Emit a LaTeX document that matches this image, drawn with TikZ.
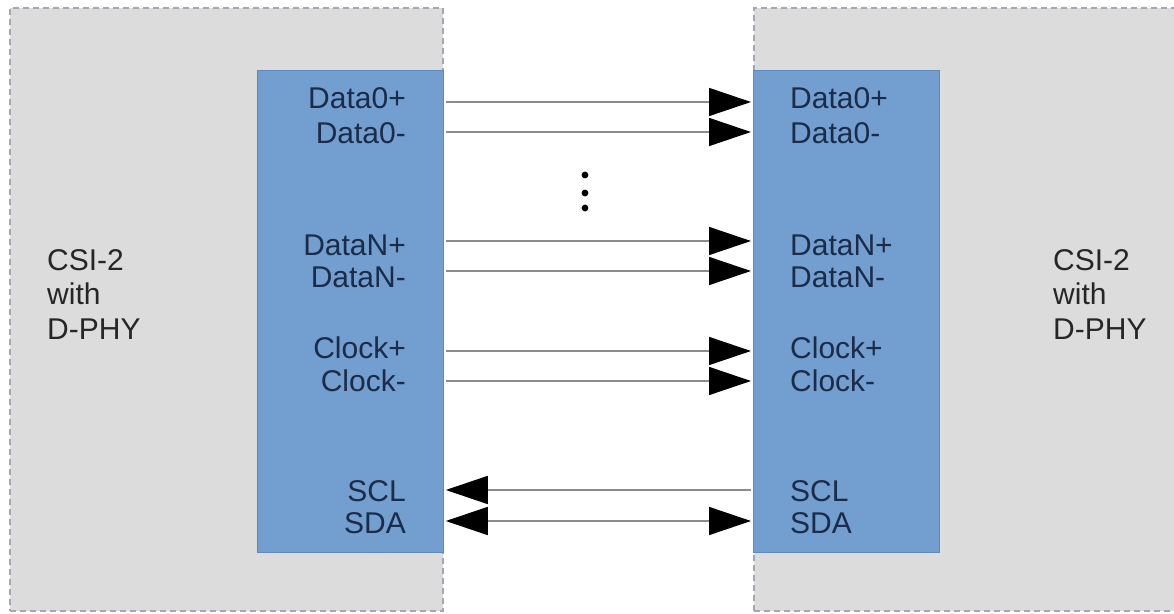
\documentclass[tikz,border=0pt]{standalone}
\usepackage{fontspec}
\setmainfont{Liberation Sans}
\usetikzlibrary{arrows.meta}
\definecolor{hostgray}{HTML}{DCDCDC}
\definecolor{hostedge}{HTML}{A3A9B2}
\definecolor{phyblue}{HTML}{729FCF}
\definecolor{phyedge}{HTML}{5E8AC2}
\definecolor{pintext}{HTML}{1C2B48}
\definecolor{nametext}{HTML}{262626}
\definecolor{wiregray}{HTML}{8C8C8C}
\begin{document}
\begin{tikzpicture}[x=1pt, y=1pt,
  host/.style={draw=hostedge, fill=hostgray, dash pattern=on 6pt off 4pt, line width=1.5pt, inner sep=0pt, minimum height=603pt},
  phy/.style={draw=phyedge, fill=phyblue, line width=1.2pt, inner sep=0pt, minimum width=186pt, minimum height=482pt},
  pin/.style={text=pintext, inner sep=0pt, font=\fontsize{30}{34}\selectfont},
  hostname/.style={text=nametext, inner sep=0pt, align=left, font=\fontsize{30}{34.5}\selectfont},
  wire/.style={draw=wiregray, line width=1.5pt, shorten >=2pt, shorten <=2pt},
  head/.tip={Triangle[length=42pt, width=28pt, color=black]}]
  \clip (0,0) rectangle (1174,613);
  \fill[white] (0,0) rectangle (1174,613);
  % Transmitter and receiver
  \node[host, minimum width=433pt] (lhost) at (226.5,303.5) {};
  \node[host, minimum width=460pt, anchor=west] (rhost) at (753,303.5) {};
  \node[phy, anchor=north east] (lphy) at (lhost.east |- 0,543) {};
  \node[phy, anchor=north west] (rphy) at (rhost.west |- 0,543) {};
  \node[hostname, anchor=west] (lname) at (47,318.5) {CSI-2\\with\\D-PHY};
  \node[hostname, anchor=west] (rname) at (1053,318.5) {CSI-2\\with\\D-PHY};
  % Pin labels
  \foreach \id/\txt/\yy in {d0p/Data0+/515, d0n/Data0-/480, dnp/DataN+/368, dnn/DataN-/336,
                            ckp/Clock+/265, ckn/Clock-/232, scl/SCL/122, sda/SDA/90} {
    \node[pin, anchor=east] (l\id) at (406,\yy) {\txt};
    \node[pin, anchor=west] (r\id) at (790,\yy) {\txt};
  }
  % Lanes
  \foreach \yy in {511,481,372,342,262,232}
    \draw[wire, -head] (lphy.east |- 0,\yy) -- (rphy.west |- 0,\yy);
  \draw[wire, head-] (lphy.east |- 0,123) -- (rphy.west |- 0,123);
  \draw[wire, head-head] (lphy.east |- 0,92) -- (rphy.west |- 0,92);
  % More lanes
  \foreach \yy in {438,420,405}
    \fill (585,\yy) circle (3.4pt);
\end{tikzpicture}
\end{document}
